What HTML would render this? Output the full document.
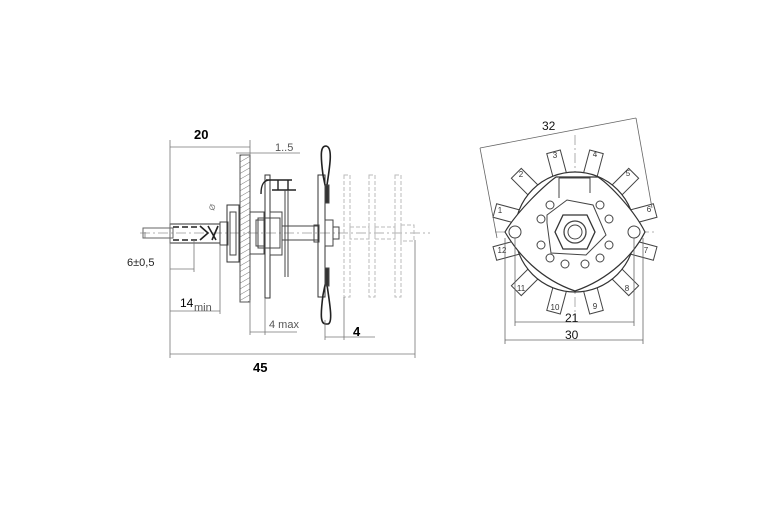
<!DOCTYPE html>
<html><head><meta charset="utf-8"><style>
html,body{margin:0;padding:0;background:#fff}
svg{display:block}
text{font-family:"Liberation Sans",sans-serif}
</style></head><body>
<svg width="770" height="520" viewBox="0 0 770 520" xmlns="http://www.w3.org/2000/svg">
<defs>
<pattern id="h" width="5" height="5" patternUnits="userSpaceOnUse" patternTransform="rotate(60)">
<line x1="0" y1="0" x2="0" y2="5" stroke="#777" stroke-width="1"/></pattern>
</defs>
<rect width="770" height="520" fill="#fff"/>
<g stroke="#444" stroke-width="1" fill="none">
<line x1="140" y1="233" x2="430" y2="233" stroke="#999" stroke-dasharray="10,3,2,3" stroke-width="0.8"/>
<rect x="143" y="228" width="30" height="10" stroke="#666"/>
<rect x="170" y="224" width="50" height="19" stroke="#333"/>
<path d="M173 227h6M182 227h6M191 227h6M173 240h6M182 240h6M191 240h6M200 226l8 7-8 7M208 226l8 14M212 240l6-14" stroke="#222" stroke-width="1.6"/>
<rect x="220" y="222" width="8" height="23"/>
<rect x="227" y="205" width="12" height="57" stroke="#333"/>
<rect x="230" y="212" width="6" height="43"/>
<rect x="240" y="155" width="10" height="147" fill="url(#h)" stroke="#555"/>
<rect x="250" y="212" width="14" height="42"/>
<rect x="256" y="220" width="8" height="26"/>
<rect x="265" y="175" width="5" height="123" stroke="#333"/>
<rect x="258" y="218" width="22" height="30"/>
<rect x="270" y="212" width="12" height="43"/>
<path d="M270 180c-6 0-9 4-9 14M266 180h26M272 190h24M278 190v-10M288 180v10" stroke="#222" stroke-width="1.4"/>
<line x1="285" y1="190" x2="285" y2="277"/><line x1="288" y1="190" x2="288" y2="277"/>
<rect x="282" y="226" width="36" height="14"/>
<rect x="318" y="175" width="7" height="122" stroke="#333"/>
<rect x="314" y="225" width="5" height="17"/>
<rect x="325" y="220" width="8" height="26"/>
<rect x="333" y="227" width="6" height="12"/>
<path d="M326 146c-5 0-6 6-3 29l2 10h2c3-20 6-38-1-39zM326 324c-5 0-6-6-3-29l2-10h2c3 20 6 38 1 39z" stroke="#222" stroke-width="1.6"/>
<rect x="325" y="185" width="4" height="18" fill="#333"/>
<rect x="325" y="268" width="4" height="18" fill="#333"/>
</g>
<g stroke="#bbb" stroke-width="1" fill="none" stroke-dasharray="4,2">
<rect x="344" y="175" width="6" height="122"/>
<rect x="369" y="175" width="6" height="122"/>
<rect x="395" y="175" width="6" height="122"/>
<rect x="350" y="227" width="19" height="12"/>
<rect x="375" y="227" width="20" height="12"/>
<rect x="401" y="225" width="13" height="16"/>
</g>
<g stroke="#777" stroke-width="0.8" fill="none">
<line x1="170" y1="140" x2="170" y2="358"/>
<line x1="170" y1="147" x2="250" y2="147"/>
<line x1="250" y1="140" x2="250" y2="155"/>
<line x1="236" y1="153" x2="300" y2="153"/>
<line x1="170" y1="269" x2="194" y2="269"/>
<line x1="194" y1="240" x2="194" y2="272"/>
<line x1="145" y1="232" x2="145" y2="238"/>
<line x1="170" y1="311" x2="220" y2="311"/>
<line x1="220" y1="245" x2="220" y2="314"/>
<line x1="250" y1="300" x2="250" y2="335"/>
<line x1="265" y1="298" x2="265" y2="335"/>
<line x1="250" y1="332" x2="297" y2="332"/>
<line x1="325" y1="320" x2="325" y2="340"/>
<line x1="344" y1="297" x2="344" y2="340"/>
<line x1="325" y1="337" x2="375" y2="337"/>
<line x1="415" y1="240" x2="415" y2="358"/>
<line x1="170" y1="354" x2="415" y2="354"/>
</g>
<g fill="#000">
<text x="194" y="139" font-size="13" font-weight="bold">20</text>
<text x="275" y="151" font-size="11" fill="#555">1..5</text>
<text x="127" y="266" font-size="11" fill="#222">6±0,5</text>
<text x="180" y="307" font-size="12">14</text><text x="194" y="311" font-size="11" fill="#555">min</text>
<text x="269" y="328" font-size="11" fill="#555">4 max</text>
<text x="353" y="336" font-size="13" font-weight="bold">4</text>
<text x="253" y="372" font-size="13" font-weight="bold">45</text>
<text x="208" y="211" font-size="8" fill="#777" transform="rotate(-70 211 207)">Ø</text>
</g>
<g stroke="#444" stroke-width="1" fill="none">
<line x1="495" y1="232" x2="655" y2="232" stroke="#999" stroke-dasharray="10,3,2,3" stroke-width="0.8"/>
<line x1="575" y1="135" x2="575" y2="320" stroke="#999" stroke-dasharray="10,3,2,3" stroke-width="0.8"/>
<g stroke="#444" fill="#fff">
<g transform="rotate(-105 575 232)"><rect x="630" y="225" width="28" height="14"/></g>
<g transform="rotate(-75 575 232)"><rect x="630" y="225" width="28" height="14"/></g>
<g transform="rotate(-45 575 232)"><rect x="630" y="225" width="28" height="14"/></g>
<g transform="rotate(-15 575 232)"><rect x="630" y="225" width="28" height="14"/></g>
<g transform="rotate(15 575 232)"><rect x="630" y="225" width="28" height="14"/></g>
<g transform="rotate(45 575 232)"><rect x="630" y="225" width="28" height="14"/></g>
<g transform="rotate(75 575 232)"><rect x="630" y="225" width="28" height="14"/></g>
<g transform="rotate(105 575 232)"><rect x="630" y="225" width="28" height="14"/></g>
<g transform="rotate(135 575 232)"><rect x="630" y="225" width="28" height="14"/></g>
<g transform="rotate(165 575 232)"><rect x="630" y="225" width="28" height="14"/></g>
<g transform="rotate(195 575 232)"><rect x="630" y="225" width="28" height="14"/></g>
<g transform="rotate(225 575 232)"><rect x="630" y="225" width="28" height="14"/></g>
</g>
<circle cx="575" cy="232" r="60" fill="#fff" stroke="#333" stroke-width="1.2"/>
<path d="M505 232C518 210 545 185 556 177L562 177L593 177L598 177C610 185 634 210 645 232C634 254 610 279 575 291C540 279 518 254 505 232Z" fill="#fff" stroke="#333" stroke-width="1.2"/>
<circle cx="515" cy="232" r="6"/><circle cx="634" cy="232" r="6"/>
<path d="M559 178h31v15M559 178v20"/>
<path d="M547 215l20-15 26 5 13 30-20 20-35-2-4-30z" fill="#fff"/>
<polygon points="563,215 587,215 595,232 587,249 563,249 555,232" fill="#fff" stroke="#333" stroke-width="1.3"/>
<circle cx="575" cy="232" r="11" stroke-width="1.3"/><circle cx="575" cy="232" r="7"/>
<g fill="#fff">
<circle cx="550" cy="205" r="4"/><circle cx="600" cy="205" r="4"/>
<circle cx="541" cy="219" r="4"/><circle cx="609" cy="219" r="4"/>
<circle cx="541" cy="245" r="4"/><circle cx="609" cy="245" r="4"/>
<circle cx="550" cy="258" r="4"/><circle cx="600" cy="258" r="4"/>
<circle cx="565" cy="264" r="4"/><circle cx="585" cy="264" r="4"/>
</g>
</g>
<g font-size="8" fill="#333" text-anchor="middle">
<text x="500" y="213">1</text><text x="521" y="177">2</text><text x="555" y="158">3</text><text x="595" y="157">4</text>
<text x="628" y="176">5</text><text x="649" y="212">6</text><text x="646" y="253">7</text><text x="627" y="291">8</text>
<text x="595" y="309">9</text><text x="555" y="310">10</text><text x="521" y="291">11</text><text x="502" y="253">12</text>
</g>
<g stroke="#666" stroke-width="0.8" fill="none">
<line x1="480" y1="148" x2="636" y2="118"/>
<line x1="480" y1="148" x2="497" y2="238"/>
<line x1="636" y1="118" x2="652" y2="208"/>
<line x1="515" y1="238" x2="515" y2="326"/>
<line x1="634" y1="238" x2="634" y2="326"/>
<line x1="515" y1="322" x2="634" y2="322"/>
<line x1="505" y1="238" x2="505" y2="344"/>
<line x1="643" y1="238" x2="643" y2="344"/>
<line x1="505" y1="340" x2="643" y2="340"/>
</g>
<g font-size="12" fill="#111">
<text x="542" y="130">32</text>
<text x="565" y="322">21</text>
<text x="565" y="339">30</text>
</g>
</svg>
</body></html>
